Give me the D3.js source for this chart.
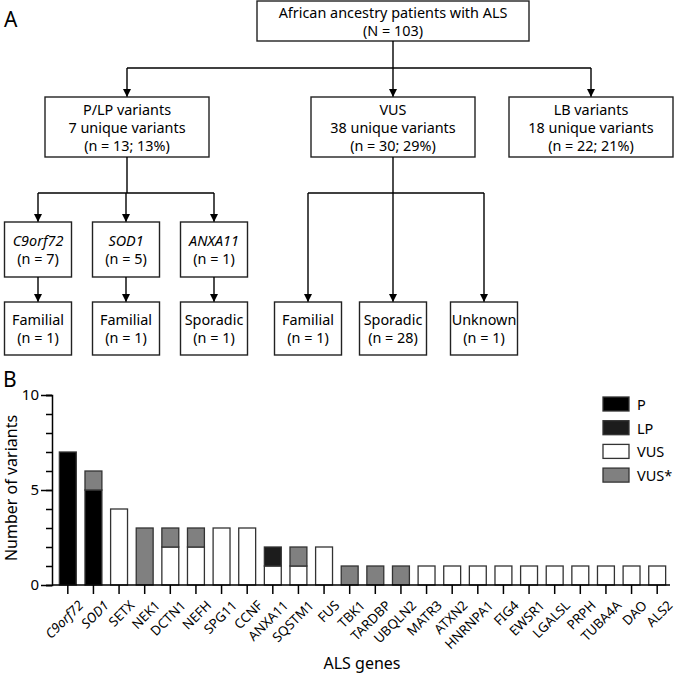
<!DOCTYPE html>
<html>
<head>
<meta charset="utf-8">
<script src="https://cdn.jsdelivr.net/npm/d3@7"></script>
<style>
  html, body { margin: 0; padding: 0; background: #fff; }
  svg { display: block; font-family: "Noto Sans", "Open Sans", sans-serif; }
</style>
</head>
<body>
<svg id="chart" width="675" height="674"></svg>
<script>
// ---------- Panel A data (flowchart) ----------
const rootLines = ["African ancestry patients with ALS", "(N = 103)"];
const level2 = [
  { lines: ["P/LP variants", "7 unique variants", "(n = 13; 13%)"] },
  { lines: ["VUS", "38 unique variants", "(n = 30; 29%)"] },
  { lines: ["LB variants", "18 unique variants", "(n = 22; 21%)"] }
];
const plpGenes = ["C9orf72", "SOD1", "ANXA11"];
const plpGeneCounts = ["(n = 7)", "(n = 5)", "(n = 1)"];
const plpOrigin = ["Familial", "Familial", "Sporadic"];
const plpOriginCounts = ["(n = 1)", "(n = 1)", "(n = 1)"];
const vusOrigin = ["Familial", "Sporadic", "Unknown"];
const vusOriginCounts = ["(n = 1)", "(n = 28)", "(n = 1)"];

// ---------- Panel B data (stacked bars) ----------
const genes = ["C9orf72","SOD1","SETX","NEK1","DCTN1","NEFH","SPG11","CCNF","ANXA11","SQSTM1","FUS",
               "TBK1","TARDBP","UBQLN2","MATR3","ATXN2","HNRNPA1","FIG4","EWSR1","LGALSL","PRPH","TUBA4A","DAO","ALS2"];
const italicGenes = ["C9orf72", "SOD1"];
const seriesKeys = ["P", "VUS", "LP", "VUS*"];          // stacking order, bottom to top
const legendKeys = ["P", "LP", "VUS", "VUS*"];
const valP     = [7,5,0,0,0,0,0,0,0,0,0, 0,0,0, 0,0,0,0,0,0,0,0,0,0];
const valVUS   = [0,0,4,0,2,2,3,3,1,1,2, 0,0,0, 1,1,1,1,1,1,1,1,1,1];
const valLP    = [0,0,0,0,0,0,0,0,1,0,0, 0,0,0, 0,0,0,0,0,0,0,0,0,0];
const valVUSs  = [0,1,0,3,1,1,0,0,0,1,0, 1,1,1, 0,0,0,0,0,0,0,0,0,0];
const yTicks = [0, 5, 10];
const yMinorTicks = [0,1,2,3,4,5,6,7,8,9,10];
const colors = { "P": "#000000", "LP": "#1c1c1c", "VUS": "#ffffff", "VUS*": "#808080" };

const svg = d3.select("#chart");
const ink = "#000";
const boxFont = 14.4;

// arrow marker
svg.append("defs").append("marker")
  .attr("id", "arrow").attr("viewBox", "0 0 10 10")
  .attr("refX", 10).attr("refY", 5)
  .attr("markerWidth", 8).attr("markerHeight", 8)
  .attr("markerUnits", "userSpaceOnUse")
  .attr("orient", "auto")
  .append("path").attr("d", "M0,0 L10,5 L0,10 Z").attr("fill", ink);

const A = svg.append("g");
A.append("text").attr("x", 4).attr("y", 27).attr("font-size", 21).text("A");

function box(g, x0, y0, w, h, lines, lineYs, italicFirst) {
  g.append("rect").attr("x", x0).attr("y", y0).attr("width", w).attr("height", h)
    .attr("fill", "#fff").attr("stroke", "#222").attr("stroke-width", 1.4);
  lines.forEach((t, i) => {
    g.append("text").attr("x", x0 + w / 2).attr("y", lineYs[i])
      .attr("text-anchor", "middle").attr("dominant-baseline", "central")
      .attr("font-size", boxFont)
      .attr("font-style", (italicFirst && i === 0) ? "italic" : "normal")
      .text(t);
  });
}
function line(g, pts, arrow) {
  const p = g.append("path").attr("d", d3.line()(pts))
    .attr("fill", "none").attr("stroke", ink).attr("stroke-width", 1.4);
  if (arrow) p.attr("marker-end", "url(#arrow)");
}

// root
const rootCx = 393;
box(A, 257, 1, 272, 40, rootLines, [12, 30]);
// level 2
const l2cx = [127, 393, 591], l2w = 164, l2y = 97, l2h = 60;
line(A, [[rootCx, 41], [rootCx, 68]]);
line(A, [[l2cx[0], 68], [l2cx[2], 68]]);
l2cx.forEach(cx => line(A, [[cx, 68], [cx, l2y]], true));
level2.forEach((d, i) => box(A, l2cx[i] - l2w / 2, l2y, l2w, l2h, d.lines, [109, 127, 145]));

// level 3
const smallW = 67;
const plpCx = [38, 126, 214];
const vusCx = [308, 393, 484];
const connY = 193, l3y = 222, l3h = 55, l4y = 302, l4h = 53;
line(A, [[l2cx[0], l2y + l2h], [l2cx[0], connY]]);
line(A, [[plpCx[0], connY], [plpCx[2], connY]]);
plpCx.forEach(cx => line(A, [[cx, connY], [cx, l3y]], true));
plpCx.forEach((cx, i) => {
  box(A, cx - smallW / 2, l3y, smallW, l3h, [plpGenes[i], plpGeneCounts[i]], [240, 258.5], true);
  line(A, [[cx, l3y + l3h], [cx, l4y]], true);
  box(A, cx - smallW / 2, l4y, smallW, l4h, [plpOrigin[i], plpOriginCounts[i]], [319, 337.5]);
});
line(A, [[l2cx[1], l2y + l2h], [l2cx[1], connY]]);
line(A, [[vusCx[0], connY], [vusCx[2], connY]]);
vusCx.forEach((cx, i) => {
  line(A, [[cx, connY], [cx, l4y]], true);
  box(A, cx - smallW / 2, l4y, smallW, l4h, [vusOrigin[i], vusOriginCounts[i]], [319, 337.5]);
});

// ---------- Panel B ----------
const B = svg.append("g");
B.append("text").attr("x", 3).attr("y", 387).attr("font-size", 21).text("B");

const axisX = 52, yTop = 395, yBot = 585, xRight = 670;
const x = d3.scaleBand().domain(genes).range([55, xRight]).paddingInner(0.34).paddingOuter(0.17);
const y = d3.scaleLinear().domain([0, 10]).range([yBot, yTop]);

const table = genes.map((g, i) => ({ gene: g, "P": valP[i], "VUS": valVUS[i], "LP": valLP[i], "VUS*": valVUSs[i] }));
const stacked = d3.stack().keys(seriesKeys)(table);

B.append("g").selectAll("g").data(stacked).join("g")
  .attr("fill", d => colors[d.key])
  .selectAll("rect").data(d => d.filter(s => s[1] - s[0] > 0)).join("rect")
  .attr("x", d => x(d.data.gene))
  .attr("width", x.bandwidth())
  .attr("y", d => y(d[1]))
  .attr("height", d => y(d[0]) - y(d[1]))
  .attr("stroke", "#333").attr("stroke-width", 1.3);

// y axis
const yAxisG = B.append("g").attr("transform", `translate(${axisX},0)`);
yAxisG.call(d3.axisLeft(y).tickValues(yMinorTicks).tickSize(6).tickFormat(""))
  .call(g => g.select(".domain").attr("stroke-width", 1.5))
  .call(g => g.selectAll(".tick line").attr("stroke-width", 1.5));
const yMajor = B.append("g").attr("transform", `translate(${axisX},0)`)
  .call(d3.axisLeft(y).tickValues(yTicks).tickSize(11).tickPadding(2).tickFormat(d3.format("d")));
yMajor.select(".domain").remove();
yMajor.selectAll(".tick line").attr("stroke-width", 1.5);
yMajor.selectAll(".tick text").attr("font-size", 15).attr("font-family", "Noto Sans, Open Sans, sans-serif").attr("fill", "#000");

// x axis
const xAxisG = B.append("g").attr("transform", `translate(0,${yBot})`)
  .call(d3.axisBottom(x).tickSize(9).tickSizeOuter(0).tickPadding(3));
xAxisG.select(".domain").attr("d", `M${axisX},0H${xRight}`).attr("stroke-width", 1.5);
xAxisG.selectAll(".tick line").attr("stroke-width", 1.5);
xAxisG.selectAll(".tick text")
  .attr("font-size", 13.3).attr("font-family", "Noto Sans, Open Sans, sans-serif").attr("fill", "#000")
  .attr("font-style", d => italicGenes.includes(d) ? "italic" : "normal")
  .attr("text-anchor", "end").attr("dy", "0.3em")
  .attr("transform", "translate(5,10) rotate(-45)");

// axis titles
B.append("text").attr("transform", `translate(17,${(yTop + yBot) / 2 - 2}) rotate(-90)`)
  .attr("text-anchor", "middle").attr("font-size", 16)
  .text("Number of variants");
B.append("text").attr("x", 362).attr("y", 663).attr("text-anchor", "middle")
  .attr("dominant-baseline", "central").attr("font-size", 16).text("ALS genes");

// legend
const lg = B.append("g").selectAll("g").data(legendKeys).join("g")
  .attr("transform", (d, i) => `translate(603,${397 + i * 23.7})`);
lg.append("rect").attr("width", 26).attr("height", 14)
  .attr("fill", d => colors[d]).attr("stroke", "#333").attr("stroke-width", 1.3);
lg.append("text").attr("x", 34).attr("y", 7).attr("dominant-baseline", "central")
  .attr("font-size", 14.5).text(d => d);
</script>
</body>
</html>
